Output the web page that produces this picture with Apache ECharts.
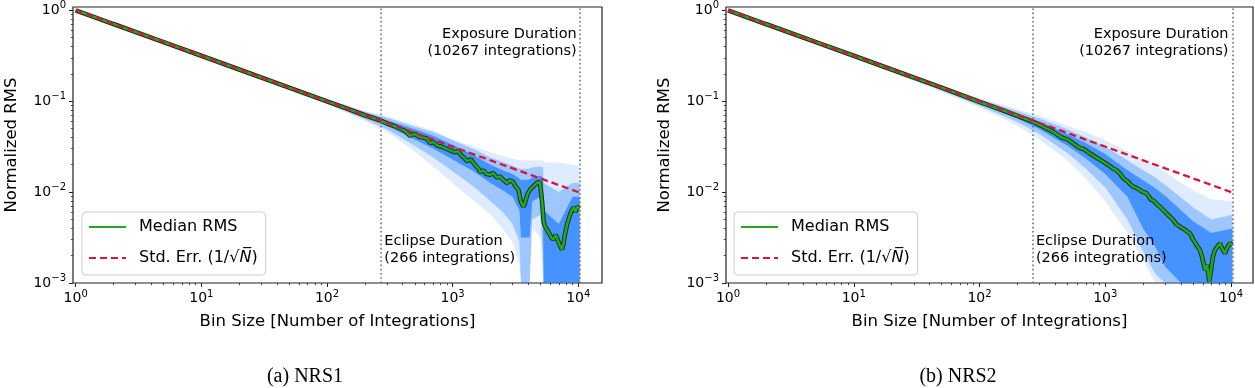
<!DOCTYPE html>
<html><head><meta charset="utf-8">
<script src="https://cdn.jsdelivr.net/npm/echarts@6/dist/echarts.min.js"></script>
<style>html,body{margin:0;padding:0;background:#fff}#c{width:1255px;height:388px}</style>
</head><body><div id="c"></div>
<script>
// ---------- tick values ----------
const xTickLabels = [1, 10, 100, 1000, 10000];
const yTickLabels = [0.001, 0.01, 0.1, 1];
const xMinorTicks = [2,3,4,5,6,7,8,9,20,30,40,50,60,70,80,90,200,300,400,500,600,700,800,900,2000,3000,4000,5000,6000,7000,8000,9000];
const yMinorTicks = [0.002,0.003,0.004,0.005,0.006,0.007,0.008,0.009,0.02,0.03,0.04,0.05,0.06,0.07,0.08,0.09,0.2,0.3,0.4,0.5,0.6,0.7,0.8,0.9];

// ---------- reference markers ----------
const eclipseN = 266;
const exposureN = 10267;
const exposureLabelY = 0.445;
const eclipseLabelY = 0.00231;

// ---------- standard error (1/sqrt(N)) end points ----------
const stdErrN = [1, 10267];
const stdErrV = [1, 0.00987];

// ---------- NRS1 median RMS ----------
const binN1 = [1,2,5,10,20,50,100,150,200,263,300,340,381,420,458,500,540,580,622,662,700,760,820,880,955,1030,1100,1180,1250,1297,1400,1500,1600,1656,1759,1850,1990,2100,2250,2389,2550,2704,2850,3030,3150,3247,3350,3450,3560,3672,3800,3950,4150,4300,4500,4690,4830,4950,5050,5150,5300,5450,5630,5850,6100,6354,6600,6760,7000,7200,7420,7600,7800,8130,8500,8900,9186,9500,9800,10267];
const median1 = [1,0.706,0.447,0.316,0.223,0.141,0.0995,0.0813,0.0700,0.0618,0.0569,0.0537,0.0501,0.0468,0.0417,0.0437,0.0407,0.0398,0.0389,0.0347,0.0355,0.0324,0.0316,0.0302,0.0288,0.0275,0.0282,0.0251,0.0234,0.0219,0.0229,0.0200,0.0182,0.0166,0.0174,0.0158,0.0155,0.0162,0.0145,0.0148,0.0135,0.0126,0.0135,0.0129,0.0117,0.0115,0.0105,0.00832,0.00741,0.00692,0.00794,0.00955,0.0107,0.0112,0.0120,0.0126,0.0120,0.0129,0.0126,0.00794,0.00468,0.00417,0.00398,0.00355,0.00316,0.00302,0.00339,0.00316,0.00275,0.00282,0.00234,0.00263,0.00331,0.00437,0.00537,0.00631,0.00676,0.00603,0.00692,0.00661];

// ---------- NRS1 spread of individual channels (outer / middle / dense) ----------
const bandN1   = [1,3,10,30,100,200,300,500,700,1000,1500,2000,2500,3000,3400,3500,4100,4300,5000,5250,5300,7000,9000,10267];
const faintHi1 = [1.01,0.589,0.324,0.190,0.106,0.0759,0.0676,0.0550,0.0479,0.0380,0.0316,0.0275,0.0251,0.0234,0.0224,0.0224,0.0224,0.0224,0.0224,0.0224,0.0214,0.0209,0.0200,0.0191];
const faintLo1 = [0.989,0.562,0.309,0.172,0.0933,0.0603,0.0457,0.0282,0.0191,0.0126,0.00794,0.00562,0.00398,0.00282,0.00158,0.001,0.001,0.00398,0.00316,0.001,0.001,0.001,0.001,0.001];
const midHi1   = [1.005,0.585,0.321,0.186,0.105,0.0776,0.0661,0.0525,0.0457,0.0372,0.0295,0.0240,0.0214,0.0195,0.0182,0.0178,0.0182,0.0186,0.0191,0.0186,0.0126,0.0100,0.0126,0.0126];
const midLo1   = [0.993,0.569,0.310,0.176,0.0944,0.0631,0.0490,0.0324,0.0240,0.0170,0.0112,0.00794,0.00603,0.00447,0.00282,0.001,0.001,0.00501,0.00562,0.00158,0.001,0.001,0.001,0.001];
const coreHi1  = [1.0,0.581,0.318,0.184,0.102,0.0741,0.0617,0.0490,0.0417,0.0331,0.0251,0.0200,0.0174,0.0158,0.0141,0.0135,0.0138,0.0145,0.0151,0.0145,0.00631,0.00447,0.00891,0.00891];
const coreLo1  = [0.998,0.575,0.314,0.180,0.0966,0.0676,0.0537,0.0380,0.0302,0.0229,0.0166,0.0126,0.0105,0.00891,0.00631,0.00316,0.00316,0.00794,0.00891,0.00398,0.001,0.001,0.001,0.001];

// ---------- NRS2 median RMS ----------
const binN2 = [1,2,5,10,20,50,100,150,210,268,320,386,450,500,557,620,680,757,850,966,1050,1150,1230,1309,1400,1500,1600,1671,1800,1950,2137,2300,2450,2600,2725,2900,3100,3270,3450,3650,3930,4150,4450,4720,5000,5300,5660,5900,6210,6450,6720,6950,7200,7460,7800,8170,8500,8960,9400,9820,10267];
const median2 = [1,0.706,0.447,0.316,0.223,0.141,0.0982,0.0804,0.0673,0.0593,0.0525,0.0460,0.0398,0.0380,0.0343,0.0309,0.0295,0.0266,0.0240,0.0215,0.0200,0.0182,0.0174,0.0160,0.0141,0.0132,0.0120,0.0115,0.0110,0.0102,0.00966,0.00832,0.00794,0.00724,0.00690,0.00631,0.00575,0.00536,0.00501,0.00447,0.00416,0.00398,0.00372,0.00352,0.00302,0.00263,0.00231,0.00191,0.00139,0.00158,0.00104,0.00141,0.00200,0.00231,0.00251,0.00273,0.00240,0.00212,0.00251,0.00273,0.00263];

// ---------- NRS2 spread of individual channels (outer / middle / dense) ----------
const bandN2   = [1,3,10,30,100,200,300,500,700,1000,1500,2000,2500,3000,4000,5000,7000,10267];
const faintHi2 = [1.01,0.589,0.324,0.188,0.108,0.0813,0.0692,0.0537,0.0457,0.0372,0.0282,0.0229,0.0195,0.0166,0.0126,0.0105,0.00832,0.00794];
const faintLo2 = [0.989,0.562,0.305,0.168,0.0851,0.0537,0.0380,0.0224,0.0141,0.00794,0.00355,0.00178,0.001,0.001,0.001,0.001,0.001,0.001];
const midHi2   = [1.005,0.585,0.321,0.185,0.106,0.0776,0.0646,0.0490,0.0398,0.0316,0.0224,0.0174,0.0145,0.0120,0.00871,0.00676,0.00501,0.00562];
const midLo2   = [0.993,0.569,0.309,0.174,0.0891,0.0589,0.0437,0.0269,0.0182,0.0112,0.00501,0.00224,0.00126,0.001,0.001,0.001,0.001,0.001];
const coreHi2  = [1.0,0.581,0.318,0.183,0.102,0.0733,0.0596,0.0437,0.0347,0.0263,0.0174,0.0135,0.0110,0.00912,0.00631,0.00479,0.00355,0.00398];
const coreLo2  = [0.998,0.574,0.313,0.178,0.0933,0.0646,0.0490,0.0324,0.0234,0.0158,0.00891,0.00398,0.00251,0.00151,0.001,0.001,0.001,0.001];

const captions = ['(a) NRS1', '(b) NRS2'];

// ---------- layout ----------
const FONT = 'DejaVu Sans';
const grids = [
  {left: 73, top: 7, width: 529, height: 276},
  {left: 726, top: 7, width: 527, height: 276}
];
const xRange = [[0.952, 15450], [0.964, 14960]];
const yRange = [0.001, 1.087];

function sci(v) {
  const e = Math.round(Math.log10(v));
  const s = e < 0 ? '\u2212' + (-e) : '' + e;
  return '{b|10}{s|' + s + '}';
}
const tickRich = {
  b: {fontSize: 14, fontFamily: FONT, color: '#000'},
  s: {fontSize: 10, fontFamily: FONT, color: '#000', padding: [0, 0, 9, 0]}
};
const noteStyle = {fontFamily: FONT, fontSize: 14.5, color: '#000', lineHeight: 17, opacity: 1};

const xAxes = [], yAxes = [], series = [], legends = [], titles = [];
const panels = [
  {binN: binN1, median: median1, bandN: bandN1, bands: [[faintLo1, faintHi1], [midLo1, midHi1], [coreLo1, coreHi1]]},
  {binN: binN2, median: median2, bandN: bandN2, bands: [[faintLo2, faintHi2], [midLo2, midHi2], [coreLo2, coreHi2]]}
];
const bandFills = ['rgba(40,130,255,0.15)', 'rgba(30,125,255,0.33)', 'rgba(25,118,255,0.66)'];

panels.forEach((P, p) => {
  const xi = p * 2, yi = p * 2;
  xAxes.push({
    type: 'log', logBase: 10, gridIndex: p, position: 'bottom', min: xRange[p][0], max: xRange[p][1],
    name: 'Bin Size [Number of Integrations]', nameLocation: 'middle', nameGap: 30,
    nameTextStyle: {fontFamily: FONT, fontSize: 16.5, color: '#000'},
    axisLine: {show: false},
    axisTick: {show: true, customValues: xTickLabels, length: 4, lineStyle: {color: '#222', width: 1}},
    axisLabel: {show: true, customValues: xTickLabels, formatter: sci, rich: tickRich, margin: 6},
    splitLine: {show: false}, minorTick: {show: false}
  });
  xAxes.push({
    type: 'log', logBase: 10, gridIndex: p, position: 'bottom', min: xRange[p][0], max: xRange[p][1],
    axisLine: {show: false},
    axisTick: {show: true, customValues: xMinorTicks, length: 2.2, lineStyle: {color: '#222', width: 0.8}},
    axisLabel: {show: false}, splitLine: {show: false}
  });
  yAxes.push({
    type: 'log', logBase: 10, gridIndex: p, position: 'left', min: yRange[0], max: yRange[1],
    name: 'Normalized RMS', nameLocation: 'middle', nameGap: 53, nameRotate: 90,
    nameTextStyle: {fontFamily: FONT, fontSize: 16.5, color: '#000'},
    axisLine: {show: false},
    axisTick: {show: true, customValues: yTickLabels, length: 4, lineStyle: {color: '#222', width: 1}},
    axisLabel: {show: true, customValues: yTickLabels, formatter: sci, rich: tickRich, margin: 7},
    splitLine: {show: false}
  });
  yAxes.push({
    type: 'log', logBase: 10, gridIndex: p, position: 'left', min: yRange[0], max: yRange[1],
    axisLine: {show: false},
    axisTick: {show: true, customValues: yMinorTicks, length: 2.2, lineStyle: {color: '#222', width: 0.8}},
    axisLabel: {show: false}, splitLine: {show: false}
  });

  P.bands.forEach(([lo, hi], k) => {
    series.push({
      type: 'custom', xAxisIndex: xi, yAxisIndex: yi, data: [[P.bandN[0], hi[0]]], clip: true, silent: true, z: 1 + k * 0.1,
      renderItem: (params, api) => {
        const pts = [];
        for (let i = 0; i < P.bandN.length; i++) pts.push(api.coord([P.bandN[i], hi[i]]));
        for (let i = P.bandN.length - 1; i >= 0; i--) pts.push(api.coord([P.bandN[i], lo[i]]));
        return {type: 'polygon', shape: {points: pts}, style: {fill: bandFills[k]}};
      }
    });
  });

  const med = P.binN.map((n, i) => [n, P.median[i]]);
  series.push({
    type: 'line', name: 'edge' + p, xAxisIndex: xi, yAxisIndex: yi, data: med, symbol: 'none', silent: true,
    lineStyle: {color: '#153515', width: 4.6}, z: 3, animation: false
  });
  series.push({
    type: 'line', name: 'Median RMS', xAxisIndex: xi, yAxisIndex: yi, data: med, symbol: 'none', silent: true,
    lineStyle: {color: '#22a822', width: 2.6}, itemStyle: {color: '#228b22'}, z: 4, animation: false
  });
  series.push({
    type: 'line', name: 'Std. Err. (1/√N)', xAxisIndex: xi, yAxisIndex: yi,
    data: stdErrN.map((n, i) => [n, stdErrV[i]]), symbol: 'none', silent: true,
    lineStyle: {color: '#dc143c', width: 2.3, type: [7, 4]}, itemStyle: {color: '#dc143c'}, z: 5, animation: false
  });
  series.push({
    type: 'scatter', name: 'notes' + p, xAxisIndex: xi, yAxisIndex: yi, symbolSize: 0, silent: true, z: 6,
    itemStyle: {color: '#000', opacity: 1},
    data: [
      {value: [exposureN, exposureLabelY], label: Object.assign({show: true, position: 'left', distance: p ? 4 : 3, formatter: 'Exposure Duration\n(10267 integrations)'}, noteStyle)},
      {value: [eclipseN, eclipseLabelY], label: Object.assign({show: true, position: 'right', distance: p ? 3 : 4, formatter: 'Eclipse Duration\n(266 integrations)'}, noteStyle)}
    ],
    label: noteStyle,
    markLine: {
      silent: true, symbol: ['none', 'none'], label: {show: false},
      lineStyle: {color: '#707070', width: 1.6, type: [1.6, 2.6]},
      data: [{xAxis: eclipseN}, {xAxis: exposureN}]
    }
  });

  legends.push({
    left: p ? 734 : 82, top: 212, orient: 'vertical', selectedMode: false,
    data: ['Median RMS', 'Std. Err. (1/√N)'],
    itemWidth: 37, itemHeight: 16, itemGap: 15, padding: [7, 8, 9, 6],
    itemStyle: {opacity: 0},
    backgroundColor: 'rgba(255,255,255,0.85)', borderColor: '#cccccc', borderWidth: 1, borderRadius: 4,
    textStyle: {fontFamily: FONT, fontSize: 16, color: '#000', padding: [0, 0, 0, 8],
      rich: {it: {fontFamily: FONT, fontSize: 16, fontStyle: 'italic', color: '#000'}}},
    formatter: name => name === 'Median RMS' ? name : 'Std. Err. (1/√{it|N\u0305})'
  });

  titles.push({
    text: captions[p], left: p ? 953 : 300, top: 362, textAlign: 'center',
    textStyle: {fontFamily: 'Liberation Serif', fontSize: 20, fontWeight: 'normal', color: '#000'}
  });
});

const chart = echarts.init(document.getElementById('c'), null, {renderer: 'canvas'});
chart.setOption({
  animation: false,
  backgroundColor: '#fff',
  title: titles,
  legend: legends,
  grid: grids.map(g => Object.assign({show: true, borderColor: '#222', borderWidth: 1.2, backgroundColor: 'transparent', outerBoundsMode: 'none', containLabel: false}, g)),
  xAxis: xAxes,
  yAxis: yAxes,
  series: series
});
</script></body></html>
